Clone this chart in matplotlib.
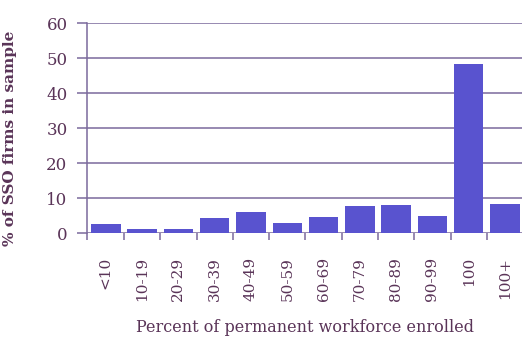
import matplotlib
matplotlib.use("Agg")
from matplotlib import pyplot as plt

# share of SSO firms by percent of permanent workforce enrolled
categories = ["<10", "10-19", "20-29", "30-39", "40-49", "50-59",
              "60-69", "70-79", "80-89", "90-99", "100", "100+"]
shares = [2.7, 1.2, 1.2, 4.3, 6.0, 2.9, 4.7, 7.8, 8.0, 4.9, 48.4, 8.3]
yticks = [0, 10, 20, 30, 40, 50, 60]

text_col = "#5a3458"
grid_col = "#7b6a9c"
bar_col = "#5953cf"

plt.rcParams["font.family"] = ["DejaVu Serif"]

fig = plt.figure(figsize=(5.22, 3.37), dpi=100)
ax = fig.add_axes([87 / 522, 103.7 / 337, 435 / 522, 210 / 337])

x = list(range(len(categories)))
ax.bar(x, shares, width=0.81, color=bar_col, zorder=3)

ax.set_ylim(0, 60)
ax.set_xlim(-0.52, 11.47)
ax.set_yticks(yticks)
ax.set_yticklabels([str(v) for v in yticks], fontsize=12, color=text_col)
for v in yticks:
    ax.axhline(v, color=grid_col, lw=1.1, zorder=1)

# x ticks sit on the category boundaries, labels at the centres
ax.set_xticks([i + 0.5 for i in x[:-1]] + [-0.52])
ax.set_xticks(x, minor=True)
ax.set_xticklabels([])
ax.set_xticklabels(categories, minor=True, rotation=90, fontsize=11,
                   color=text_col, va="top")
ax.tick_params(axis="x", which="major", length=5, color=grid_col, width=1.1)
ax.tick_params(axis="x", which="minor", length=0, pad=17)
ax.tick_params(axis="y", length=7, color=grid_col, width=1.1, pad=7)

for s in ["top", "right", "bottom"]:
    ax.spines[s].set_visible(False)
ax.spines["left"].set_color(grid_col)
ax.spines["left"].set_linewidth(1.1)

ax.set_ylabel("% of SSO firms in sample", fontsize=11, color=text_col,
              fontweight="bold")
ax.yaxis.set_label_coords(-0.162, 0.45)
ax.set_xlabel("Percent of permanent workforce enrolled", fontsize=11.5,
              color=text_col, labelpad=13)

fig.savefig("out.png", dpi=100)
